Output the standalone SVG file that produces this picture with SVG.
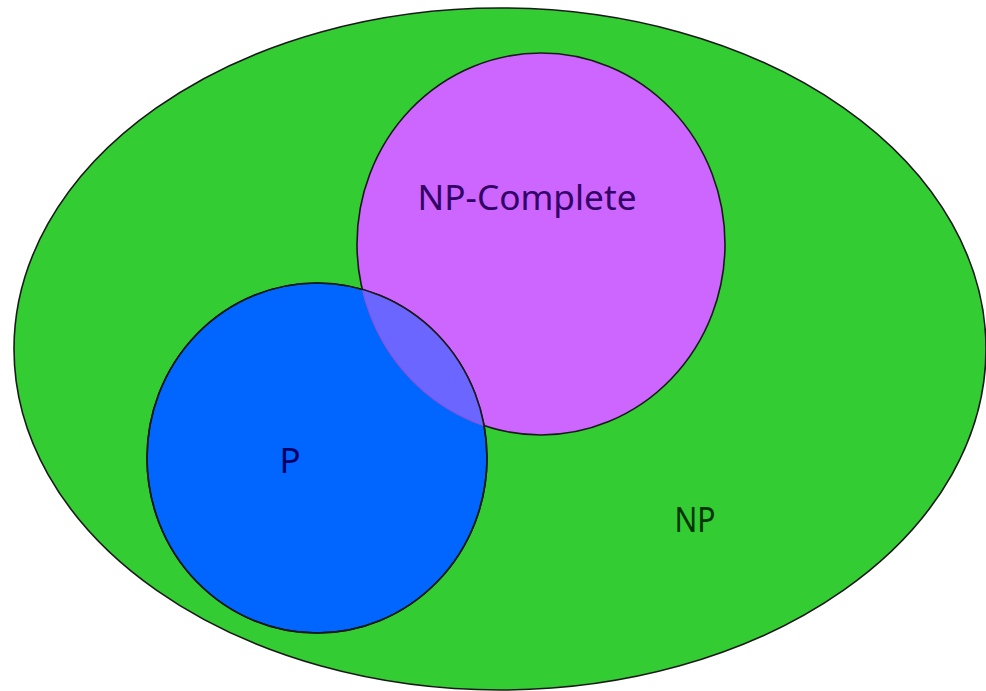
<svg xmlns="http://www.w3.org/2000/svg" width="986" height="691" viewBox="0 0 986 691">
<style>
.lbl{font-family:"Noto Sans","Open Sans",sans-serif;font-size:35px;text-anchor:middle}
.edge{stroke:#1a1a1a;stroke-width:1.6}
</style>
<defs>
<clipPath id="pclip"><ellipse cx="317" cy="458" rx="170" ry="175"/></clipPath>
</defs>
<rect width="986" height="691" fill="#ffffff"/>
<g id="np">
<ellipse cx="500" cy="349" rx="486" ry="341" fill="#33cc33" class="edge"/>
<text class="lbl" x="695" y="532" fill="#003300" textLength="41" lengthAdjust="spacingAndGlyphs">NP</text>
</g>
<g id="npc">
<ellipse cx="541" cy="244" rx="184" ry="191" fill="#cc66ff" class="edge"/>
</g>
<g id="p">
<ellipse cx="317" cy="458" rx="170" ry="175" fill="#0066ff" class="edge"/>
<ellipse cx="541" cy="244" rx="184" ry="191" fill="#6a66ff" stroke="#8a55dd" stroke-width="1.2" clip-path="url(#pclip)"/>
<ellipse cx="317" cy="458" rx="170" ry="175" fill="none" class="edge"/>
<text class="lbl" x="290" y="473" fill="#000066" font-size="38">P</text>
</g>
<g id="npc-label">
<text class="lbl" x="527" y="210" fill="#330066" textLength="219" lengthAdjust="spacingAndGlyphs">NP-Complete</text>
</g>
<g id="connectors"></g>
</svg>
